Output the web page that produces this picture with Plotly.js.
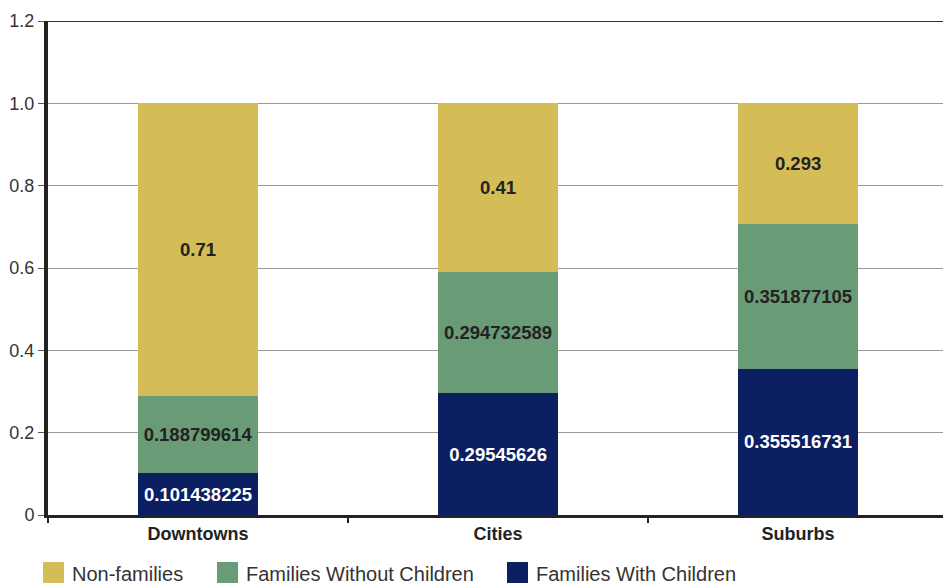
<!DOCTYPE html>
<html>
<head>
<meta charset="utf-8">
<script src="https://cdn.plot.ly/plotly-3.0.1.min.js"></script>
<style>html,body{margin:0;padding:0;background:#fff;}#chart{width:943px;height:584px;}</style>
</head>
<body>
<div id="chart"></div>
<script>
const categories = ["Downtowns", "Cities", "Suburbs"];
const withChildren = [0.101438225, 0.29545626, 0.355516731];
const withoutChildren = [0.188799614, 0.294732589, 0.351877105];
const nonFamilies = [0.71, 0.41, 0.293];
const withChildrenLabels = ["0.101438225", "0.29545626", "0.355516731"];
const withoutChildrenLabels = ["0.188799614", "0.294732589", "0.351877105"];
const nonFamiliesLabels = ["0.71", "0.41", "0.293"];
const seriesNames = ["Non-families", "Families Without Children", "Families With Children"];
const yTickVals = [0, 0.2, 0.4, 0.6, 0.8, 1.0, 1.2];
const yTickText = ["0", "0.2", "0.4", "0.6", "0.8", "1.0", "1.2"];

const colors = {nf: "#D4BC57", wo: "#6A9B77", wc: "#0D1F63"};
const font = "Liberation Sans, Arial, Helvetica, sans-serif";

function bar(y, labels, name, color, textColor) {
  return {
    type: "bar", x: categories, y: y, name: name,
    marker: {color: color, line: {width: 0}},
    width: 0.4,
    text: labels, texttemplate: "%{text}",
    textposition: "inside", insidetextanchor: "middle", textangle: 0,
    constraintext: "none",
    textfont: {family: font, size: 18.5, color: textColor, weight: "bold"},
    hoverinfo: "skip", showlegend: false
  };
}

const data = [
  bar(withChildren, withChildrenLabels, seriesNames[2], colors.wc, "#ffffff"),
  bar(withoutChildren, withoutChildrenLabels, seriesNames[1], colors.wo, "#222222"),
  bar(nonFamilies, nonFamiliesLabels, seriesNames[0], colors.nf, "#222222")
];

const plotW = 895, plotH = 494;
function px2x(p) { return (p - 48) / plotW; }
function py2y(p) { return (515 - p) / plotH; }

const legendItems = [
  {name: seriesNames[0], color: colors.nf, sx: 43},
  {name: seriesNames[1], color: colors.wo, sx: 217},
  {name: seriesNames[2], color: colors.wc, sx: 507}
];
const shapes = [];
const annotations = [];
legendItems.forEach(it => {
  shapes.push({type: "rect", xref: "paper", yref: "paper",
    x0: px2x(it.sx), x1: px2x(it.sx + 21), y0: py2y(583), y1: py2y(562),
    fillcolor: it.color, line: {width: 0}});
  annotations.push({xref: "paper", yref: "paper", x: px2x(it.sx + 27), y: py2y(574),
    xanchor: "left", yanchor: "middle", showarrow: false, text: it.name,
    font: {family: font, size: 20, color: "#333333"}});
});
// top boundary line at 1.2
shapes.push({type: "line", xref: "paper", yref: "y", x0: 0, x1: 1, y0: 1.2, y1: 1.2,
  line: {color: "#333333", width: 2}});

const layout = {
  width: 943, height: 584,
  margin: {l: 48, r: 0, t: 21, b: 69},
  paper_bgcolor: "#ffffff", plot_bgcolor: "#ffffff",
  barmode: "stack",
  showlegend: false,
  xaxis: {
    type: "category", range: [-0.5, 2.483],
    showgrid: false, zeroline: false,
    showline: true, linecolor: "#222222", linewidth: 3,
    ticks: "outside", tickson: "boundaries", ticklen: 5, tickcolor: "#222222", tickwidth: 1.5,
    tickfont: {family: font, size: 18, color: "#222222", weight: "bold"}
  },
  yaxis: {
    range: [0, 1.2], tickvals: yTickVals, ticktext: yTickText,
    showgrid: true, gridcolor: "#9a9a9a", gridwidth: 1,
    zeroline: false,
    showline: true, linecolor: "#222222", linewidth: 4,
    ticks: "outside", ticklen: 6, tickcolor: "#555555", tickwidth: 1,
    tickfont: {family: font, size: 18, color: "#333333"}
  },
  shapes: shapes,
  annotations: annotations
};

Plotly.newPlot("chart", data, layout, {displayModeBar: false, staticPlot: true});
</script>
</body>
</html>
